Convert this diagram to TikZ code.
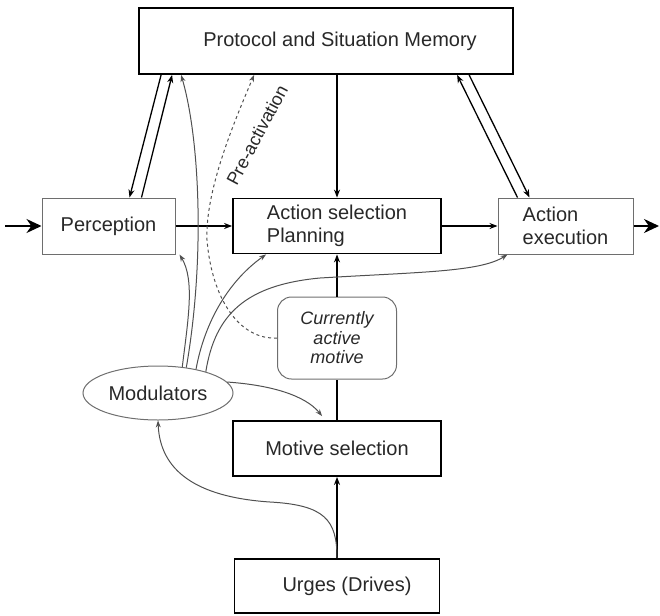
\documentclass[tikz,border=0pt]{standalone}
\usepackage{fontspec}
\setmainfont{Liberation Sans}
\usetikzlibrary{arrows.meta,shapes.geometric}

\definecolor{ink}{RGB}{40,40,40}
\definecolor{wire}{RGB}{80,80,80}
\definecolor{rim}{RGB}{110,110,110}

\begin{document}
\begin{tikzpicture}[x=1pt,y=-1pt,
  txt/.style={text=ink,font=\fontsize{20}{23}\selectfont},
  mainbox/.style={draw=black,line width=1.8pt,fill=white,txt,inner sep=0pt},
  sidebox/.style={draw=rim,line width=1pt,fill=white,txt,inner sep=0pt},
  flow/.style={draw=black,line width=1.3pt,-{Stealth[length=8pt,width=6pt]}},
  io/.style={draw=black,line width=1.6pt,-{Stealth[length=15pt,width=14pt]}},
  influence/.style={draw=wire,line width=1pt,-{Stealth[length=7pt,width=5pt]}},
]
\useasboundingbox (0,0) rectangle (660,615);

% boxes
\node[mainbox, minimum width=374pt, minimum height=66pt,
      label={[txt,xshift=14pt]center:Protocol and Situation Memory}] (proto) at (326,41) {};
\node[sidebox, minimum width=133pt, minimum height=56pt] (perc) at (108.5,226) {Perception};
\node[mainbox, minimum width=208pt, minimum height=55pt, align=left] (act) at (337,226) {Action selection\\Planning};
\node[sidebox, minimum width=135pt, minimum height=56pt, align=left] (exec) at (565.5,226) {Action\\execution};
\node[draw=rim, line width=1pt, rounded corners=14pt, minimum width=119pt, minimum height=82pt,
      align=center, text=ink, font=\fontsize{18}{19.5}\selectfont\itshape] (cam) at (337,338) {Currently\\active\\motive};
\node[ellipse, draw=rim, line width=1pt, minimum width=150pt, minimum height=54pt, inner sep=0pt, txt] (mod) at (158,393) {Modulators};
\node[mainbox, minimum width=208pt, minimum height=55pt] (mot) at (337,448.5) {Motive selection};
\node[mainbox, minimum width=205pt, minimum height=54pt,
      label={[txt,xshift=10pt]center:Urges (Drives)}] (urg) at (337,586) {};

% input and output
\coordinate (src) at (5,226);
\coordinate (sink) at (659,226);
\draw[io] (src) -- (perc.west);
\draw[io] (exec.east) -- (sink);

% main flow
\draw[flow] (perc.east) -- (act.west);
\draw[flow] (act.east) -- (exec.west);
\draw[flow] (act.north |- proto.south) -- (act.north);
\draw[flow] (cam.north) -- (act.south);
\draw[line width=1.3pt] (mot.north) -- (cam.south);
\draw[flow] (urg.north) -- (mot.south);

% memory exchange
\draw[flow] ([xshift=23pt]proto.south west) -- ([xshift=88pt]perc.north west);
\draw[flow] ([xshift=100pt]perc.north west) -- ([xshift=34pt]proto.south west);
\draw[flow] ([xshift=20pt]exec.north west) -- ([xshift=319pt]proto.south west);
\draw[flow] ([xshift=331pt]proto.south west) -- ([xshift=32pt]exec.north west);

% modulator influences
\draw[influence] (mod.47) .. controls (188,320) and (195,280) .. ([xshift=4pt]perc.south east);
\draw[influence] (mod.42) .. controls (205,260) and (200,140) .. ([xshift=43pt]proto.south west);
\draw[influence] (mod.32) .. controls (205,320) and (230,280) .. ([xshift=34pt]act.south west);
\draw[influence] (mod.24) .. controls (215,315) and (245,285) .. (320,278)
                 .. controls (420,272) and (480,272) .. ([xshift=10pt]exec.south west);
\draw[influence] (mod.9) .. controls (270,385) and (305,395) .. ([xshift=90pt,yshift=4pt]mot.north west);
\draw[influence] (urg.north) .. controls (337,520) and (325,505) .. (270,502)
                 .. controls (195,497) and (160,470) .. (mod.south);

% pre-activation
\draw[influence, dashed] (cam.west) .. controls (240,340) and (212,300) .. (207,240)
                 .. controls (205,190) and (235,120) .. ([xshift=116pt]proto.south west);
\node[rotate=62, text=ink, font=\fontsize{18}{18}\selectfont] (pre) at (257,135) {Pre-activation};

\end{tikzpicture}
\end{document}
